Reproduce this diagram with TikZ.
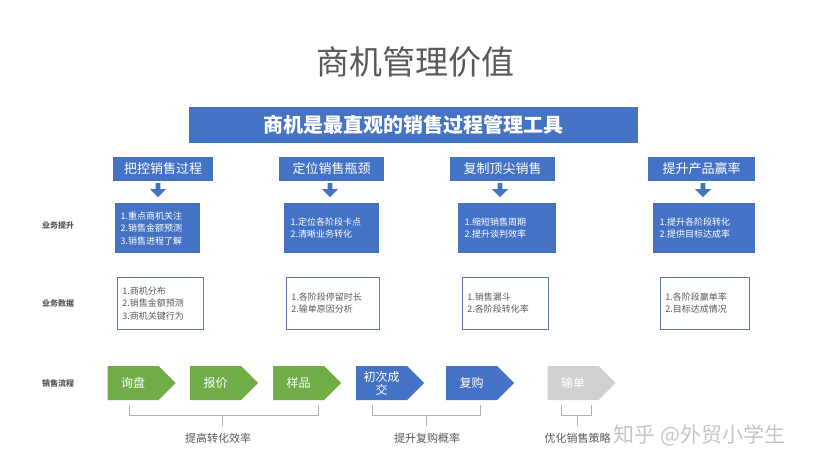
\documentclass[tikz,border=0pt]{standalone}
\usepackage{fontspec}
\setmainfont{Noto Sans CJK SC}
\usetikzlibrary{shapes.arrows,shapes.symbols}
\definecolor{bl}{HTML}{4472C4}
\definecolor{gr}{HTML}{70AD47}
\definecolor{gy}{HTML}{D0D0D0}
\definecolor{tx}{HTML}{595959}
\begin{document}
\begin{tikzpicture}[x=1pt,y=-1pt,
 hdr/.style={fill=bl,text=white,font=\fontsize{13}{15}\selectfont,inner sep=0},
 blk/.style={fill=bl,text=white,font=\fontsize{9}{12.5}\selectfont,align=left,inner sep=0},
 dat/.style={draw=bl!60!gray,line width=0.6pt,fill=white,text=tx,font=\fontsize{9}{12.5}\selectfont,align=left,inner sep=0},
 lab/.style={font=\bfseries\fontsize{8}{10}\selectfont,text=tx},
 dn/.style={single arrow,shape border rotate=270,fill=bl,minimum width=16pt,single arrow head extend=3pt,single arrow tip angle=90,minimum height=14pt,inner sep=1pt},
 chev/.style={signal,signal to=east,signal pointer angle=90,minimum width=68pt,minimum height=34pt,inner sep=0,text=white,font=\fontsize{12}{13}\selectfont,align=center},
 brk/.style={draw=gray!60,line width=0.8pt},
 bt/.style={text=tx,font=\fontsize{11}{13}\selectfont}]
\useasboundingbox (0,0) rectangle (831,468);
\fill[white] (0,0) rectangle (831,468);
\node[text=tx,font=\fontsize{33}{36}\selectfont] (title) at (415,62) {商机管理价值};
\node[fill=bl,text=white,font=\bfseries\fontsize{20}{22}\selectfont,minimum width=449pt,minimum height=36pt,inner sep=0] (banner) at (413.5,125) {商机是最直观的销售过程管理工具};
\foreach \i/\x/\w/\t in {1/163/100/把控销售过程,2/331.5/105/定位销售瓶颈,3/502.5/105/复制顶尖销售,4/701.5/107/提升产品赢率}{
 \node[hdr,minimum width=\w pt,minimum height=24pt] (h\i) at (\x,169) {\t};
}
\foreach \i/\x in {1/158,2/330,3/500,4/703}{
 \node[dn] (a\i) at (\x,189) {};
}
\node[blk,minimum width=85pt,minimum height=50pt,anchor=north west,text width=80pt] (b1) at (115,203) {\hspace*{3pt}1.重点商机关注\\\hspace*{3pt}2.销售金额预测\\\hspace*{3pt}3.销售进程了解};
\node[blk,minimum width=95pt,minimum height=50pt,anchor=north west,text width=90pt] (b2) at (284,203) {\hspace*{4pt}1.定位各阶段卡点\\\hspace*{4pt}2.清晰业务转化\\[12.5pt]};
\node[blk,minimum width=98pt,minimum height=50pt,anchor=north west,text width=93pt] (b3) at (458,203) {\hspace*{4pt}1.缩短销售周期\\\hspace*{4pt}2.提升谈判效率\\[12.5pt]};
\node[blk,minimum width=102pt,minimum height=50pt,anchor=north west,text width=97pt] (b4) at (653,203) {\hspace*{4pt}1.提升各阶段转化\\\hspace*{4pt}2.提供目标达成率\\[12.5pt]};
\node[dat,minimum width=86pt,minimum height=52pt,anchor=north west,text width=82pt] (d1) at (117,277) {\hspace*{3pt}1.商机分布\\\hspace*{3pt}2.销售金额预测\\\hspace*{3pt}3.商机关键行为};
\node[dat,minimum width=93pt,minimum height=52pt,anchor=north west,text width=89pt] (d2) at (286,277) {\hspace*{3pt}1.各阶段停留时长\\\hspace*{3pt}2.输单原因分析\\[12.5pt]};
\node[dat,minimum width=86pt,minimum height=52pt,anchor=north west,text width=82pt] (d3) at (462,277) {\hspace*{3pt}1.销售漏斗\\\hspace*{3pt}2.各阶段转化率\\[12.5pt]};
\node[dat,minimum width=89pt,minimum height=52pt,anchor=north west,text width=85pt] (d4) at (660,277) {\hspace*{3pt}1.各阶段赢单率\\\hspace*{3pt}2.目标达成情况\\[12.5pt]};
\node[lab] (l1) at (58,225) {业务提升};
\node[lab] (l2) at (58,303) {业务数据};
\node[lab] (l3) at (58,383) {销售流程};
\node[chev,fill=gr] (c1) at (133,383) {询盘};
\node[chev,fill=gr] (c2) at (215.5,383) {报价};
\node[chev,fill=gr] (c3) at (298.5,383) {样品};
\node[chev,fill=bl] (c4) at (381.5,383) {初次成\\交};
\node[chev,fill=bl] (c5) at (471.5,383) {复购};
\node[chev,fill=gy] (c6) at (573,383) {输单};
\coordinate (k1) at (222,426);
\coordinate (k2) at (426,426);
\coordinate (k3) at (577,426);
\draw[brk] (129,405) -- (129,415) -- (318,415) -- (318,405);
\draw[brk] (k1) -- (222,415);
\draw[brk] (372,405) -- (372,415) -- (480,415) -- (480,405);
\draw[brk] (k2) -- (426,415);
\draw[brk] (561,405) -- (561,415) -- (591,415) -- (591,405);
\draw[brk] (k3) -- (577,415);
\node[bt] (t1) at (218,438) {提高转化效率};
\node[bt] (t2) at (427,438) {提升复购概率};
\node[bt,anchor=west] (t3) at (541,438) {优化销售策略};
\node[text=gray!45,font=\fontsize{21}{24}\selectfont,anchor=west] (wm) at (610,435) {知乎 @外贸小学生};
\end{tikzpicture}
\end{document}
